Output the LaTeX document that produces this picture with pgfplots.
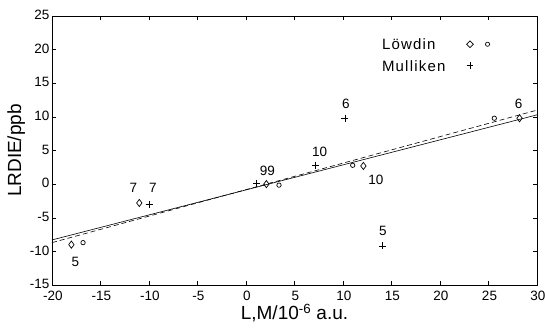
\documentclass[border=0pt]{standalone}
\usepackage{pgfplots}
\pgfplotsset{compat=1.18}
\usepackage{fontspec}
\setmainfont{Liberation Sans}
\usetikzlibrary{calc}
\begin{document}
\begin{tikzpicture}
\begin{axis}[
  scale only axis, width=485pt, height=269pt,
  xmin=-20, xmax=30, ymin=-15, ymax=25,
  xtick={-20,-15,...,30}, ytick={-15,-10,...,25},
  tick align=inside, major tick length=4pt,
  tick style={black, thin},
  axis line style={black, line width=0.9pt},
  /pgf/number format/assume math mode=true,
  ticklabel style={font=\fontsize{13.5}{15}\selectfont},
  xticklabel style={yshift=-3pt, xshift=1pt},
  yticklabel style={xshift=1pt, yshift=1pt},
  xlabel={L,M/10\textsuperscript{-6} a.u.},
  ylabel={LRDIE/ppb},
  xlabel style={font=\fontsize{19}{21}\selectfont, yshift=4pt},
  ylabel style={font=\fontsize{19}{21}\selectfont, yshift=-2pt},
  clip=false,
]
% fitted lines
\addplot[black, line width=0.6pt, no marks] coordinates {(-20,-8.3) (30,10.3)};
\addplot[black, line width=0.6pt, dash pattern=on 5pt off 3pt, no marks] coordinates {(-20,-8.7) (30,11.0)};
% Lowdin diamonds
\addplot[only marks, mark=diamond, mark size=3.6pt, black, line width=0.7pt] coordinates {(-18,-9) (-11,-2.8) (2.1,0) (12.1,2.7) (28.2,9.8)};
% Lowdin circles
\addplot[only marks, mark=o, mark size=2.2pt, black, line width=0.7pt] coordinates {(-16.8,-8.7) (3.4,-0.15) (11,2.8) (25.6,9.8)};
% Mulliken
\addplot[only marks, mark=+, mark size=3.5pt, black, line width=0.7pt] coordinates {(-10,-3) (1.1,0.1) (7.2,2.8) (10.2,9.8) (14.05,-9.2)};
% point labels
\tikzset{lab/.style={font=\fontsize{13.5}{15}\selectfont, inner sep=0pt}}
\node[lab] at (axis cs:-17.6,-11.5) {5};
\node[lab] at (axis cs:-11.6,-0.6) {7};
\node[lab] at (axis cs:-9.6,-0.6) {7};
\node[lab] at (axis cs:2.2,2.0) {99};
\node[lab] at (axis cs:7.6,4.8) {10};
\node[lab] at (axis cs:13.4,0.6) {10};
\node[lab] at (axis cs:10.3,12.0) {6};
\node[lab] at (axis cs:14.1,-7.0) {5};
\node[lab] at (axis cs:28.1,11.9) {6};
% legend
\node[font=\fontsize{15}{17}\selectfont, anchor=base west, inner sep=0pt] at (axis cs:14,20) {L\kern1.2pt ö\kern1.2pt w\kern1.2pt d\kern1.2pt i\kern1.2pt n};
\node[font=\fontsize{15}{17}\selectfont, anchor=base west, inner sep=0pt] at (axis cs:14,16.7) {M\kern1.2pt u\kern1.2pt l\kern1.2pt l\kern1.2pt i\kern1.2pt k\kern1.2pt e\kern1.2pt n};
\node[inner sep=0pt] at (axis cs:23.1,20.8) {\tikz\draw[line width=0.7pt] (0,3.4pt)--(3.4pt,0)--(0,-3.4pt)--(-3.4pt,0)--cycle;};
\node[inner sep=0pt] at (axis cs:24.9,20.8) {\tikz\draw[line width=0.7pt] (0,0) circle (2.1pt);};
\node[inner sep=0pt] at (axis cs:23.1,17.6) {\tikz\draw[line width=0.7pt] (-3.4pt,0)--(3.4pt,0) (0,-3.4pt)--(0,3.4pt);};
\end{axis}
\pgfresetboundingbox
\path ($(current axis.south west)+(-52pt,-46pt)$) rectangle ($(current axis.north east)+(8pt,16pt)$);
\end{tikzpicture}
\end{document}
